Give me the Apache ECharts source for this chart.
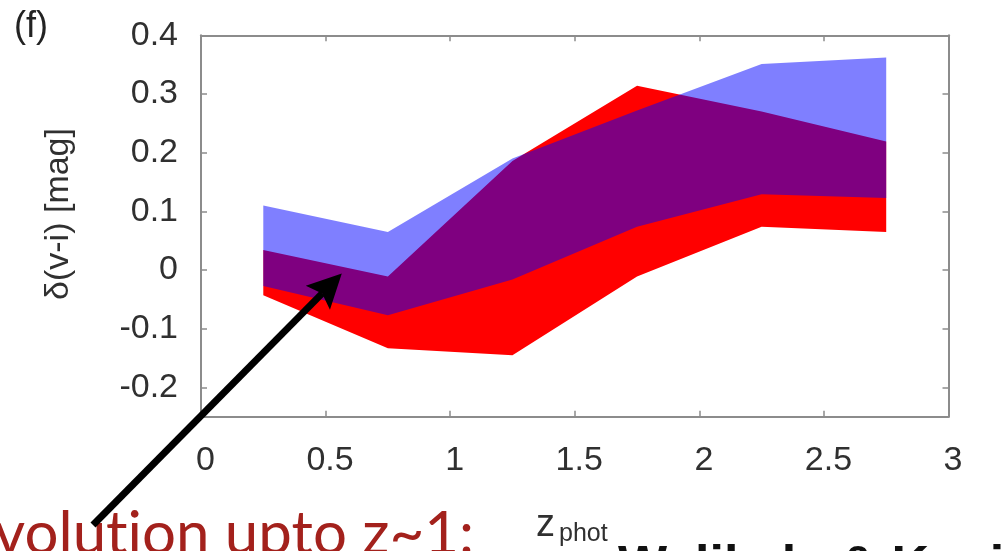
<!DOCTYPE html>
<html>
<head>
<meta charset="utf-8">
<script src="https://cdn.jsdelivr.net/npm/echarts@6/dist/echarts.min.js"></script>
<style>
  html, body { margin: 0; padding: 0; background: #fff; overflow: hidden; }
  #chart { width: 1003px; height: 551px; }
</style>
</head>
<body>
<div id="chart"></div>
<script>
// Photometric-redshift bin centres
const zBins = [0.25, 0.75, 1.25, 1.75, 2.25, 2.75];

// Red band: lower and upper edge of δ(v-i)
const redLow  = [-0.043, -0.133, -0.145, -0.011, 0.074, 0.065];
const redHigh = [ 0.034, -0.011,  0.186,  0.314, 0.270, 0.219];

// Blue band: lower and upper edge of δ(v-i)
const blueLow  = [-0.027, -0.077, -0.016, 0.074, 0.129, 0.123];
const blueHigh = [ 0.110,  0.065,  0.190, 0.272, 0.351, 0.362];

// Tick values
const xTicks = [0, 0.5, 1, 1.5, 2, 2.5, 3];
const yTicks = [-0.2, -0.1, 0, 0.1, 0.2, 0.3, 0.4];

// Point the arrow at, in data units
const arrowTarget = [0.565, -0.006];

const frameColor = '#8c8c8c';
const labelColor = '#303030';
const labelFont = 'Liberation Sans';

// One filled polygon per band: upper edge left→right, lower edge right→left
function bandSeries(name, low, high, fill, z) {
  return {
    name: name,
    type: 'custom',
    coordinateSystem: 'cartesian2d',
    z: z,
    silent: true,
    data: zBins.map((x, i) => [x, low[i], high[i]]),
    encode: { x: 0, y: [1, 2] },
    renderItem: function (params, api) {
      if (params.dataIndex !== 0) return null;
      const pts = [];
      for (let i = 0; i < zBins.length; i++) pts.push(api.coord([zBins[i], high[i]]));
      for (let i = zBins.length - 1; i >= 0; i--) pts.push(api.coord([zBins[i], low[i]]));
      return { type: 'polygon', shape: { points: pts }, style: { fill: fill, stroke: null } };
    }
  };
}

function frameAxis(extra) {
  return Object.assign({
    type: 'value',
    axisLine: { show: true, onZero: false, lineStyle: { color: frameColor, width: 2 } },
    axisTick: { show: true, inside: true, length: 6, lineStyle: { color: frameColor, width: 1.5 } },
    splitLine: { show: false }
  }, extra);
}

const chart = echarts.init(document.getElementById('chart'), null, { renderer: 'canvas' });

const option = {
  animation: false,
  backgroundColor: '#ffffff',
  grid: { left: 201, right: 54.5, top: 35.3, bottom: 134.2, containLabel: false },
  xAxis: [
    frameAxis({
      position: 'bottom', min: 0, max: 3, interval: 0.5,
      axisLabel: {
        show: true, margin: 27, color: labelColor, fontFamily: labelFont, fontSize: 34,
        padding: [0, 0, 0, 9]
      }
    }),
    frameAxis({
      position: 'top', min: 0, max: 3, interval: 0.5,
      axisLabel: { show: false }
    })
  ],
  yAxis: [
    frameAxis({
      position: 'left', min: -0.25, max: 0.4,
      axisTick: { show: true, inside: true, length: 6, customValues: yTicks, lineStyle: { color: frameColor, width: 1.5 } },
      axisLabel: {
        show: true, margin: 23, color: labelColor, fontFamily: labelFont, fontSize: 34,
        customValues: yTicks,
        formatter: v => (Math.abs(v) < 1e-9 ? '0' : v.toFixed(1))
      }
    }),
    frameAxis({
      position: 'right', min: -0.25, max: 0.4,
      axisTick: { show: true, inside: true, length: 6, customValues: yTicks, lineStyle: { color: frameColor, width: 1.5 } },
      axisLabel: { show: false }
    })
  ],
  series: [
    bandSeries('red', redLow, redHigh, '#ff0000', 2),
    bandSeries('blue', blueLow, blueHigh, 'rgba(0,0,255,0.5)', 3)
  ],
  graphic: [
    {
      type: 'text', x: 14, y: 27,
      style: { text: '(f)', fontFamily: labelFont, fontSize: 36, fill: '#222', align: 'left', verticalAlign: 'middle' }
    },
    {
      type: 'text', x: 59, y: 214, rotation: Math.PI / 2,
      style: { text: 'δ(v-i) [mag]', fontFamily: labelFont, fontSize: 34, fill: labelColor, align: 'center', verticalAlign: 'middle' }
    },
    {
      type: 'text', x: 536, y: 526,
      style: { text: 'z', fontFamily: labelFont, fontSize: 38, fill: labelColor, align: 'left', verticalAlign: 'middle' }
    },
    {
      type: 'text', x: 559, y: 534,
      style: { text: 'phot', fontFamily: labelFont, fontSize: 25, fill: labelColor, align: 'left', verticalAlign: 'middle' }
    },
    {
      type: 'text', x: 474, y: 535,
      style: { text: 'evolut\u200Cion upto z~1:', fontFamily: 'Lato', fontSize: 60, fill: '#a3211c', align: 'right', verticalAlign: 'middle' }
    },
    {
      type: 'text', x: 618, y: 568,
      style: { text: 'Welikala & Kneib', fontFamily: labelFont, fontWeight: 'bold', fontSize: 52, fill: '#111', align: 'left', verticalAlign: 'middle' }
    }
  ]
};

chart.setOption(option);

// Annotation arrow: tail below the axis, head on the overlap region
const tip = chart.convertToPixel({ gridIndex: 0 }, arrowTarget);
const tail = [93, 525];
const dx = tip[0] - tail[0], dy = tip[1] - tail[1];
const len = Math.sqrt(dx * dx + dy * dy);
const ux = dx / len, uy = dy / len;
const headLen = 34, headHalf = 17;
const base = [tip[0] - ux * headLen, tip[1] - uy * headLen];
const notch = [tip[0] - ux * headLen * 0.82, tip[1] - uy * headLen * 0.82];

chart.setOption({
  graphic: option.graphic.concat([
    {
      type: 'line', z: 100,
      shape: { x1: tail[0], y1: tail[1], x2: notch[0], y2: notch[1] },
      style: { stroke: '#000', lineWidth: 7, lineCap: 'butt' }
    },
    {
      type: 'polygon', z: 100,
      shape: {
        points: [
          tip,
          [base[0] - uy * headHalf, base[1] + ux * headHalf],
          notch,
          [base[0] + uy * headHalf, base[1] - ux * headHalf]
        ]
      },
      style: { fill: '#000' }
    }
  ])
}, { replaceMerge: ['graphic'] });
</script>
</body>
</html>
